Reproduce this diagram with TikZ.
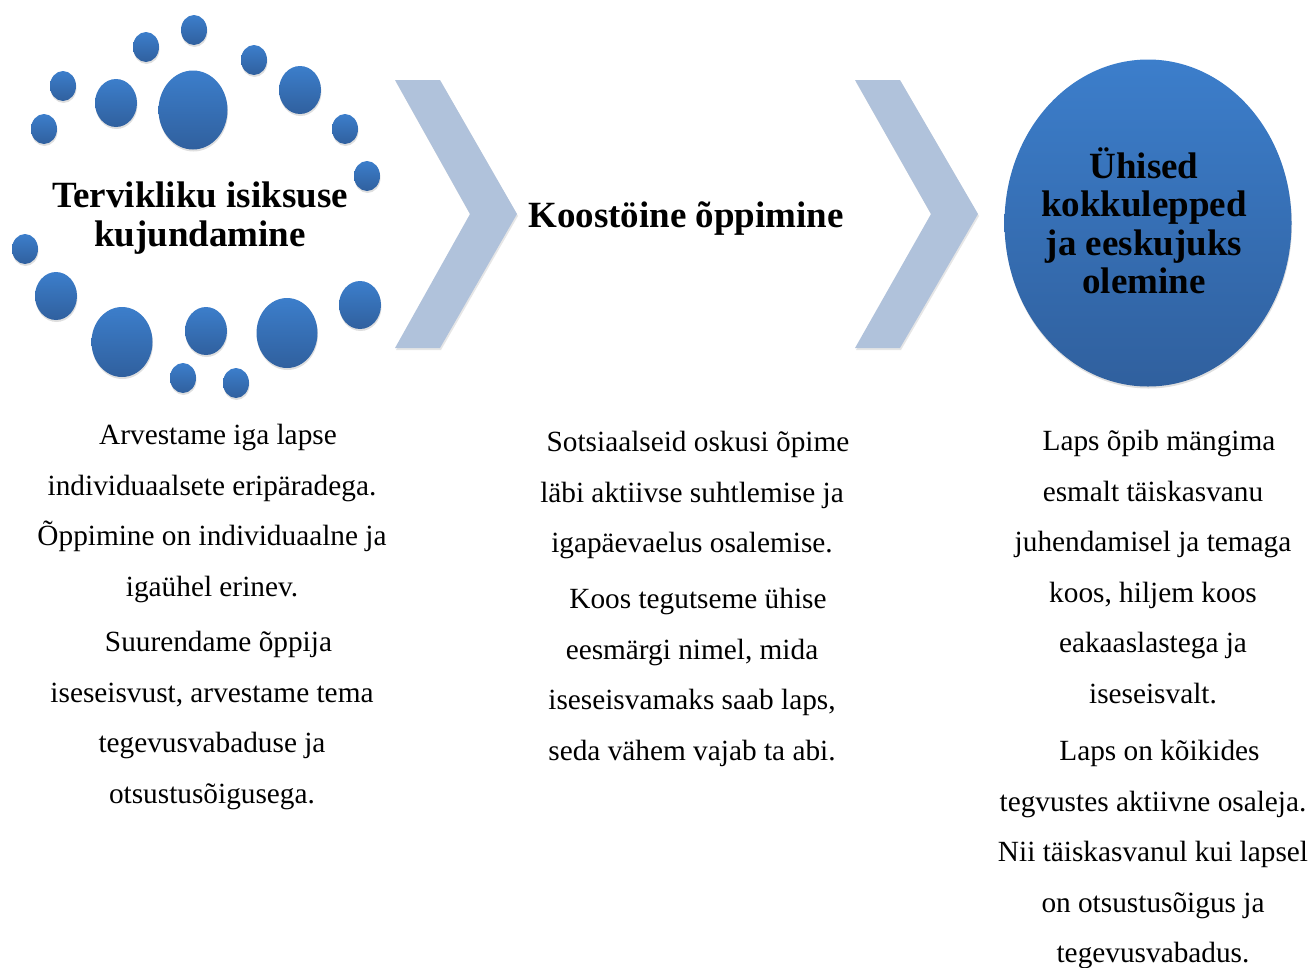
\documentclass[tikz,border=0pt]{standalone}
\usepackage{fontspec}
\setmainfont{Liberation Serif}
\usetikzlibrary{shapes.geometric, shadows}

\definecolor{dotTop}{HTML}{3C7ECB}
\definecolor{dotBot}{HTML}{30609E}
\definecolor{chevFill}{HTML}{B0C2DB}

\begin{document}
\begin{tikzpicture}[x=1pt, y=-1pt,
    dot/.style={ellipse, draw=none, inner sep=0pt, top color=dotTop, bottom color=dotBot,
      drop shadow={opacity=0.25, shadow xshift=0.5pt, shadow yshift=-2pt}},
    small/.style={dot, minimum width=26pt, minimum height=30pt},
    mid/.style={dot, minimum width=42pt, minimum height=48pt},
    large/.style={dot, minimum width=61pt, minimum height=70pt},
    huge/.style={dot, minimum width=69pt, minimum height=79pt},
    chev/.style={fill=chevFill, drop shadow={opacity=0.2, shadow xshift=1pt, shadow yshift=-2pt}},
    head/.style={font=\fontsize{37}{39}\selectfont\bfseries, align=center, inner sep=0pt},
    body/.style={font=\fontsize{29.3}{50.5}\selectfont, align=center, inner sep=0pt, anchor=north}]
  \useasboundingbox (0,0) rectangle (1308,967);

  % ring of dots
  \node[small] (c1) at (194,30) {};
  \node[small] (c2) at (146,47) {};
  \node[small] (c3) at (254,60) {};
  \node[small] (c4) at (63,86) {};
  \node[mid] (c5) at (116,103) {};
  \node[huge] (c6) at (193,110) {};
  \node[mid] (c7) at (300,90) {};
  \node[small] (c8) at (44,129) {};
  \node[small] (c9) at (345,129) {};
  \node[small] (c10) at (367,176) {};
  \node[small] (c11) at (25,249) {};
  \node[mid] (c12) at (56,296) {};
  \node[large] (c13) at (122,342) {};
  \node[mid] (c14) at (206,331) {};
  \node[large] (c15) at (287,333) {};
  \node[mid] (c16) at (360,305) {};
  \node[small] (c17) at (183,378) {};
  \node[small] (c18) at (236,383) {};

  \node[head, anchor=north] (head1) at (200,182) {Tervikliku isiksuse\\kujundamine};

  % chevrons
  \fill[chev] (395,80) -- (440,80) -- (517,214) -- (440,348) -- (395,348) -- (470,214) -- cycle;
  \fill[chev] (855,80) -- (900,80) -- (978,214) -- (900,348) -- (855,348) -- (931,214) -- cycle;

  \node[head, anchor=base] (head2) at (686,227) {Koostöine õppimine};

  % big circle
  \node[dot, minimum width=287pt, minimum height=327pt] (goal) at (1148,223) {};
  \node[head, font=\fontsize{37}{38.5}\selectfont\bfseries] (head3) at (1144,221)
    {Ühised\\kokkulepped\\ja eeskujuks\\olemine};

  % texts
  \node[body] (t1a) at (212,424) {\hspace*{12pt}Arvestame iga lapse\\individuaalsete eripäradega.\\Õppimine on individuaalne ja\\igaühel erinev.};
  \node[body] (t1b) at (212,631) {\hspace*{13pt}Suurendame õppija\\iseseisvust, arvestame tema\\tegevusvabaduse ja\\otsustusõigusega.};

  \node[body] (t2a) at (692,431) {\hspace*{12pt}Sotsiaalseid oskusi õpime\\läbi aktiivse suhtlemise ja\\igapäevaelus osalemise.};
  \node[body] (t2b) at (692,588) {\hspace*{12pt}Koos tegutseme ühise\\eesmärgi nimel, mida\\iseseisvamaks saab laps,\\seda vähem vajab ta abi.};

  \node[body] (t3a) at (1153,430) {\hspace*{12pt}Laps õpib mängima\\esmalt täiskasvanu\\juhendamisel ja temaga\\koos, hiljem koos\\eakaaslastega ja\\iseseisvalt.};
  \node[body] (t3b) at (1153,740) {\hspace*{13pt}Laps on kõikides\\tegvustes aktiivne osaleja.\\Nii täiskasvanul kui lapsel\\on otsustusõigus ja\\tegevusvabadus.};
\end{tikzpicture}
\end{document}
